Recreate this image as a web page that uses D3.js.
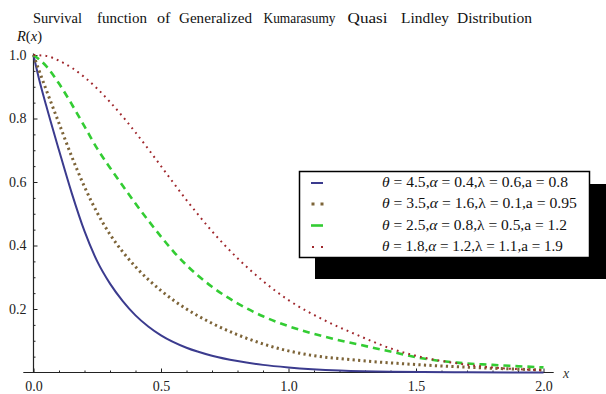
<!DOCTYPE html>
<html>
<head>
<meta charset="utf-8">
<script src="https://cdn.jsdelivr.net/npm/d3@7/dist/d3.min.js"></script>
<style>
  body { margin: 0; background: #fff; }
  svg { display: block; }
  svg text { font-family: 'Liberation Serif', 'Times New Roman', 'DejaVu Serif', serif !important; }
</style>
</head>
<body>
<div id="chart"></div>
<script>
// values
const xBlue = [0, 0.02, 0.05, 0.1, 0.15, 0.2, 0.25, 0.3, 0.35, 0.4, 0.45, 0.5, 0.6, 0.7, 0.8, 0.9, 1.0, 1.2, 1.4, 1.7, 2.0]
const yBlue = [1.0, 0.93, 0.84, 0.70, 0.565, 0.445, 0.35, 0.28, 0.225, 0.18, 0.145, 0.117, 0.078, 0.053, 0.036, 0.024, 0.016, 0.006, 0.002, 0.0005, 0]

const xBrown = [0, 0.02, 0.05, 0.1, 0.15, 0.2, 0.25, 0.3, 0.35, 0.4, 0.5, 0.6, 0.7, 0.8, 0.9, 1.0, 1.1, 1.25, 1.5, 1.75, 2.0]
const yBrown = [1.0, 0.955, 0.89, 0.785, 0.68, 0.585, 0.503, 0.435, 0.38, 0.333, 0.258, 0.2, 0.155, 0.119, 0.09, 0.068, 0.053, 0.04, 0.025, 0.015, 0.008]

const xGreen = [0, 0.05, 0.1, 0.15, 0.2, 0.25, 0.3, 0.35, 0.4, 0.45, 0.5, 0.55, 0.6, 0.7, 0.8, 0.9, 1.0, 1.14, 1.27, 1.4, 1.53, 1.66, 1.8, 2.0]
const yGreen = [1.0, 0.965, 0.91, 0.845, 0.775, 0.705, 0.645, 0.588, 0.532, 0.479, 0.428, 0.38, 0.338, 0.27, 0.218, 0.177, 0.146, 0.113, 0.089, 0.066, 0.044, 0.031, 0.024, 0.016]

const xRed = [0, 0.05, 0.1, 0.15, 0.2, 0.25, 0.3, 0.35, 0.4, 0.45, 0.5, 0.55, 0.6, 0.65, 0.7, 0.8, 0.9, 1.0, 1.14, 1.27, 1.4, 1.53, 1.66, 1.8, 2.0]
const yRed = [1.0, 0.997, 0.982, 0.96, 0.93, 0.894, 0.852, 0.806, 0.756, 0.704, 0.65, 0.596, 0.543, 0.493, 0.445, 0.36, 0.288, 0.228, 0.165, 0.118, 0.076, 0.047, 0.029, 0.016, 0.007]

const xTicks = [0, 0.5, 1.0, 1.5, 2.0]
const yTicks = [0.2, 0.4, 0.6, 0.8, 1.0]

const titleWords = ['Survival', 'function', 'of', 'Generalized', 'Kumarasumy', 'Quasi', 'Lindley', 'Distribution']

const legendLabels = [
    ['4.5', '0.4', '0.6', '0.8'],
    ['3.5', '1.6', '0.1', '0.95'],
    ['2.5', '0.8', '0.5', '1.2'],
    ['1.8', '1.2', '1.1', '1.9']
]

const width = 606
const height = 394

const svg = d3.select('#chart').append('svg').attr('width', width).attr('height', height)

const x = d3.scaleLinear().domain([0, 2]).range([33.5, 543.5])
const y = d3.scaleLinear().domain([0, 1]).range([372.5, 55])

// title: one text, each word placed where it is in the picture
const wordX = [33, 97, 157, 179, 263.5, 347.5, 401, 457]
const wordW = [49, 50, 13.5, 73, 72, 40, 48, 75]
const title = svg.append('text')
    .attr('y', 22.5)
    .attr('font-size', 14.5).attr('fill', '#111')
title.selectAll('tspan')
    .data(titleWords)
    .join('tspan')
    .attr('x', (d, i) => wordX[i])
    .attr('textLength', (d, i) => wordW[i])
    .attr('lengthAdjust', 'spacingAndGlyphs')
    .text(d => d)

// axes
const fmt = d3.format('.1f')
svg.append('g')
    .attr('transform', `translate(${x(0)},0)`)
    .call(d3.axisLeft(y).tickValues(yTicks).tickFormat(fmt).tickSizeInner(-4).tickSizeOuter(0).tickPadding(7))
    .call(g => g.select('.domain').remove())
svg.append('g')
    .attr('transform', `translate(${x(0)},0)`)
    .call(d3.axisLeft(y).tickValues(d3.range(1, 20).map(i => i / 20).filter(v => Math.round(v * 100) % 20 !== 0)).tickFormat('').tickSizeInner(-2).tickSizeOuter(0))
    .call(g => g.select('.domain').remove())
svg.append('g')
    .attr('transform', `translate(0,${y(0)})`)
    .call(d3.axisBottom(x).tickValues(xTicks).tickFormat(fmt).tickSizeInner(-4).tickSizeOuter(0).tickPadding(9))
    .call(g => g.select('.domain').remove())
svg.append('g')
    .attr('transform', `translate(0,${y(0)})`)
    .call(d3.axisBottom(x).tickValues(d3.range(1, 20).map(i => i / 10).filter(v => Math.round(v * 10) % 5 !== 0)).tickFormat('').tickSizeInner(-2).tickSizeOuter(0))
    .call(g => g.select('.domain').remove())
svg.selectAll('.tick text').attr('font-size', 14).attr('fill', '#222')
svg.selectAll('.tick line').attr('stroke', '#222')

svg.append('line').attr('x1', x(0)).attr('x2', x(0)).attr('y1', y(1.005)).attr('y2', y(0)).attr('stroke', '#222').attr('stroke-width', 1.2)
svg.append('line').attr('x1', x(-0.04)).attr('x2', x(2.04)).attr('y1', y(0)).attr('y2', y(0)).attr('stroke', '#222').attr('stroke-width', 1.2)

const rl = svg.append('text').attr('x', 17).attr('y', 41).attr('font-size', 14.5).attr('font-style', 'italic').attr('fill', '#111')
rl.append('tspan').text('R')
rl.append('tspan').attr('font-style', 'normal').text('(')
rl.append('tspan').text('x')
rl.append('tspan').attr('font-style', 'normal').text(')')
svg.append('text').attr('x', 563).attr('y', 378).attr('font-size', 14).attr('font-style', 'italic').attr('fill', '#333').text('x')

// curves
const series = [
    { xs: xBlue, ys: yBlue, color: '#3b3b8e', width: 2, dash: null },
    { xs: xBrown, ys: yBrown, color: '#7d6438', width: 3, dash: '2.2,3.3' },
    { xs: xGreen, ys: yGreen, color: '#33cc33', width: 2.6, dash: '7,5' },
    { xs: xRed, ys: yRed, color: '#a0282d', width: 2, dash: '1.8,4.2' }
]
const line = d3.line().x(d => x(d[0])).y(d => y(d[1])).curve(d3.curveMonotoneX)
series.forEach(s => {
    svg.append('path')
        .datum(s.xs.map((v, i) => [v, s.ys[i]]))
        .attr('d', line)
        .attr('fill', 'none')
        .attr('stroke', s.color)
        .attr('stroke-width', s.width)
        .attr('stroke-dasharray', s.dash)
})

// legend with its drop shadow
const legend = svg.append('g')
legend.append('rect').attr('x', 315).attr('y', 184).attr('width', 300).attr('height', 95).attr('fill', '#000')
legend.append('rect').attr('x', 299.5).attr('y', 171.5).attr('width', 290).attr('height', 86).attr('fill', '#fff').attr('stroke', '#000').attr('stroke-width', 1.5)

const rowY = [183, 204, 225.5, 247]
const rowW = [186, 195, 185, 181]
legendLabels.forEach((lab, i) => {
    const s = series[i]
    const ry = rowY[i]
    if (i === 0 || i === 2) {
        legend.append('line').attr('x1', 311).attr('x2', 323).attr('y1', ry).attr('y2', ry)
            .attr('stroke', s.color).attr('stroke-width', s.width)
    } else {
        ;[313, 322].forEach(cx => {
            legend.append('rect').attr('x', cx - s.width / 2).attr('y', ry - s.width / 2)
                .attr('width', s.width).attr('height', s.width).attr('fill', s.color)
        })
    }
    const t = legend.append('text').attr('y', ry + 4.5).attr('font-size', 14).attr('fill', '#111')
    t.append('tspan').attr('font-style', 'italic').text('\u03b8')
    t.append('tspan').text(` = ${lab[0]},`)
    t.append('tspan').attr('font-style', 'italic').text('\u03b1')
    t.append('tspan').text(` = ${lab[1]},\u03bb = ${lab[2]},a = ${lab[3]}`)
    const len = t.node().getComputedTextLength()
    t.attr('transform', `translate(382,0) scale(${rowW[i] / len},1)`)
})
</script>
</body>
</html>
